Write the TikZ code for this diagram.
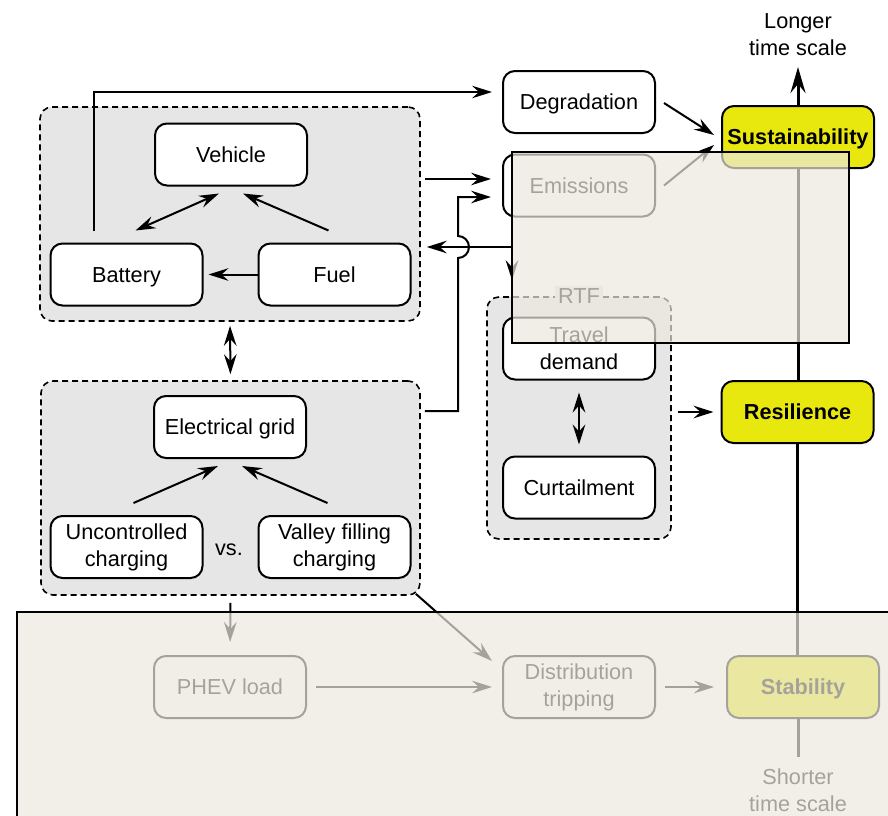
\documentclass[tikz,border=0pt]{standalone}
\usepackage{fontspec}
\setmainfont{Liberation Sans}
\usetikzlibrary{arrows.meta,calc}
\definecolor{grpgray}{HTML}{E6E6E6}
\definecolor{ylw}{RGB}{232,232,14}
\definecolor{veil}{RGB}{236,232,222}
\begin{document}
\begin{tikzpicture}[x=0.5pt,y=-0.5pt,
  txt/.style={font=\fontsize{10.85}{13.5}\selectfont, align=center},
  box/.style={txt, draw=black, line width=1pt, fill=white, rounded corners=6pt,
    minimum width=76pt, minimum height=31pt, inner sep=0pt},
  oneline/.style={text height=9.2pt, text depth=1.6pt},
  goal/.style={box, oneline, fill=ylw, font=\fontsize{10.85}{13.5}\selectfont\bfseries},
  groupbox/.style={draw=black, line width=0.8pt, dash pattern=on 3pt off 2pt,
    fill=grpgray, rounded corners=6pt, inner sep=0pt},
  tipA/.tip={Stealth[length=10pt,width=6.3pt,inset=3.5pt]},
  tipB/.tip={Stealth[length=13pt,width=7.5pt,inset=4.5pt]},
  arr/.style={line width=1pt, -tipA},
  darr/.style={line width=1pt, tipA-tipA},
  axisline/.style={line width=1.5pt},
  axisarr/.style={line width=1.5pt, -tipB},
  veilbox/.style={fill=veil, fill opacity=0.7, draw=black, line width=1pt}
]
\useasboundingbox (0,0) rectangle (888,815);
\clip (0,0) rectangle (888,815);

% groups
\node[groupbox, minimum width=190pt, minimum height=107pt] (g1) at (230,214) {};
\node[groupbox, minimum width=189.5pt, minimum height=107pt] (g2) at (230.5,488) {};
\node[groupbox, minimum width=92pt, minimum height=121pt] (rtf) at (579,418) {};
\node[txt, text height=7.9pt, text depth=0.5pt, fill=grpgray, inner xsep=1.5pt, inner ysep=1pt] (rtflabel) at (rtf.north) {RTF};

% nodes
\node[box, oneline] (veh) at (231,154.5) {Vehicle};
\node[box, oneline] (bat) at (126.5,274.5) {Battery};
\node[box, oneline] (fuel) at (334.5,274.5) {Fuel};
\node[box, oneline] (grid) at (230,427) {Electrical grid};
\node[box] (unc) at (126.5,547) {Uncontrolled\\charging};
\node[box] (val) at (334.5,547) {Valley filling\\charging};
\node[txt, oneline] (vs) at (229,548) {vs.};
\node[box, oneline] (deg) at (579,102) {Degradation};
\node[box, oneline] (emis) at (579,185.5) {Emissions};
\node[box] (td) at (579,348.5) {Travel\\demand};
\node[box, oneline] (curt) at (579,487.5) {Curtailment};
\node[goal] (sus) at (798,137) {Sustainability};
\node[goal] (res) at (797.5,412) {Resilience};
\node[goal] (stab) at (803,687) {Stability};
\node[box, oneline] (phev) at (230,687) {PHEV load};
\node[box] (dist) at (579,687) {Distribution\\tripping};
\node[txt] (longer) at (798,34.5) {Longer\\time scale};
\node[txt] (shorter) at (798,790) {Shorter\\time scale};

% connectors inside vehicle group
\draw[darr] ([shift={(9,-12)}]bat.north) -- ([shift={(-12,7)}]veh.south);
\draw[arr] ([shift={(-6,-12)}]fuel.north) -- ([shift={(12,7)}]veh.south);
\draw[arr, shorten >=2.5pt] (fuel.west) -- (bat.east);
\draw[darr, shorten <=2pt, shorten >=3pt] (g1.south) -- (g2.north);
% grid group
\draw[arr] ([shift={(7,-12)}]unc.north) -- ([shift={(-12,7)}]grid.south);
\draw[arr] ([shift={(-7,-12)}]val.north) -- ([shift={(12,7)}]grid.south);

% long connectors
\coordinate (degin) at ([shift={(-10,-10)}]deg.west);
\draw[arr] ([shift={(-32.5,-12)}]bat.north) |- (degin);
\coordinate (emisA) at ([shift={(-11,-6.5)}]emis.west);
\draw[arr, shorten <=2pt] (g1.east |- emisA) -- (emisA);
\coordinate (emisB) at ([shift={(-11,11.5)}]emis.west);
\coordinate (hopS) at (458,411);
\coordinate (hopB) at (458,258);
\draw[arr, shorten <=2pt] (g2.east |- hopS) -- (hopS) -- (hopB)
  arc[start angle=-90, end angle=90, radius=5.5pt] |- (emisB);
\coordinate (rtfc) at (512,247);
\draw[darr, shorten <=3pt, shorten >=8pt] (g1.east |- rtfc) -- (rtfc) -- (rtfc |- rtf.north);

\draw[darr, shorten <=6pt, shorten >=5.5pt] (td.south) -- (curt.north);
\draw[arr, shorten <=3pt, shorten >=3.5pt] (rtf.east |- res.west) -- (res.west);
\draw[arr] ([shift={(8,1)}]deg.east) -- ([shift={(-7,-2)}]sus.west);
\draw[arr] ([shift={(8,0)}]emis.east) -- ([shift={(-7,8)}]sus.west);

% time axis
\coordinate (longtip) at (798,67);
\draw[axisarr] (sus.north) -- (longtip);
\draw[axisline] (sus.south) -- (sus.south |- res.north);
\draw[axisline] (res.south) -- (res.south |- stab.north);
\coordinate (shortend) at (798,757);
\draw[axisline] (shortend |- stab.south) -- (shortend);

% lower part
\draw[arr, shorten <=3.5pt, shorten >=6.5pt] (g2.south) -- (phev.north);
\draw[arr] ([shift={(-5,-2)}]g2.south east) -- ([shift={(-10,6)}]dist.north west);
\draw[arr, shorten <=4.5pt, shorten >=5pt] (phev.east) -- (dist.west);
\draw[arr, shorten <=4.5pt, shorten >=6pt] (dist.east) -- (stab.west);

% veils
\path[veilbox] (512,152) rectangle (849,343);
\path[veilbox] (17,612) rectangle (900,830);
\end{tikzpicture}
\end{document}
